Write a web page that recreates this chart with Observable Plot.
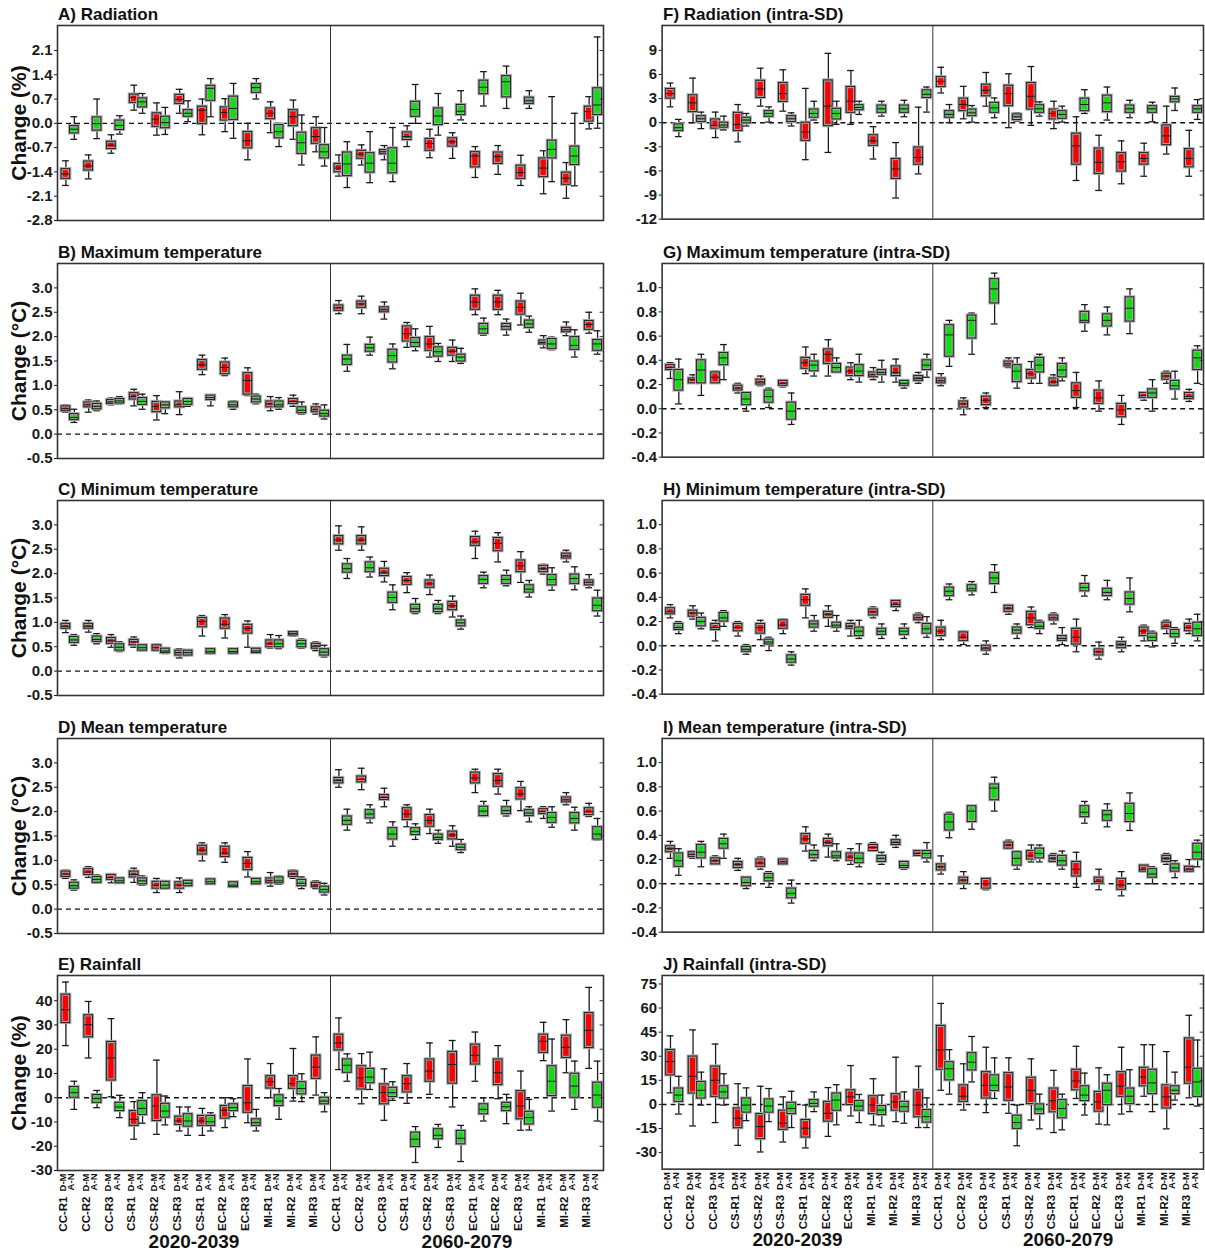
<!DOCTYPE html>
<html><head><meta charset="utf-8">
<script src="https://cdn.jsdelivr.net/npm/d3@7"></script>
<script src="https://cdn.jsdelivr.net/npm/@observablehq/plot@0.6"></script>
<style>
body{margin:0;background:#fff;}
#root{position:relative;width:1205px;height:1258px;overflow:hidden;background:#fff;font-family:"Liberation Sans",Arial,sans-serif;}
.ttl{position:absolute;font-weight:bold;font-size:17px;color:#111;white-space:nowrap;line-height:1;}
.pnl{position:absolute;}
</style></head><body><div id="root"></div>
<script>
// ---------- categories ----------
const periods = ["2020-2039", "2060-2079"];
const groupsP1 = ["CC-R1","CC-R2","CC-R3","CS-R1","CS-R2","CS-R3","CS-R1","EC-R2","EC-R3","MI-R1","MI-R2","MI-R3"];
const groupsP2 = ["CC-R1","CC-R2","CC-R3","CS-R1","CS-R2","CS-R3","EC-R1","EC-R2","EC-R3","MI-R1","MI-R2","MI-R3"];
const series = ["D-M", "A-N"];
const seriesColors = ["#ff0000", "#10dd10"];

// ---------- tick labels ----------
const ticksRad = [-2.8,-2.1,-1.4,-0.7,0,0.7,1.4,2.1];
const ticksTemp = [-0.5,0,0.5,1,1.5,2,2.5,3];
const ticksRain = [-30,-20,-10,0,10,20,30,40];
const ticksRadSd = [-12,-9,-6,-3,0,3,6,9];
const ticksTempSd = [-0.4,-0.2,0,0.2,0.4,0.6,0.8,1.0];
const ticksRainSd = [-30,-15,0,15,30,45,60,75];

// ---------- box values: [min, q1, median, q3, max] per group (12 groups x 2 periods) ----------
const radDM = [[-1.79,-1.60,-1.46,-1.32,-1.08],[-1.60,-1.36,-1.23,-1.10,-0.91],[-0.86,-0.74,-0.63,-0.53,-0.33],[0.38,0.59,0.75,0.83,1.10],[-0.34,-0.10,0.12,0.29,0.59],[0.29,0.56,0.69,0.82,0.98],[-0.33,-0.02,0.38,0.48,0.70],[-0.24,0.08,0.31,0.46,0.71],[-1.05,-0.72,-0.50,-0.25,0.0],[-0.27,0.12,0.29,0.43,0.62],[-0.46,-0.08,0.19,0.38,0.67],[-0.82,-0.59,-0.38,-0.14,0.19],
[-1.52,-1.41,-1.29,-1.17,-0.91],[-1.20,-1.02,-0.89,-0.79,-0.62],[-1.05,-0.89,-0.82,-0.77,-0.64],[-0.67,-0.48,-0.38,-0.26,-0.07],[-0.99,-0.79,-0.58,-0.45,-0.17],[-1.01,-0.67,-0.53,-0.43,-0.27],[-1.56,-1.27,-0.94,-0.83,-0.67],[-1.47,-1.17,-0.96,-0.84,-0.64],[-1.79,-1.60,-1.42,-1.22,-0.92],[-2.03,-1.55,-1.29,-1.01,-0.79],[-2.16,-1.77,-1.58,-1.42,-1.13],[-0.16,0.05,0.34,0.48,0.77]];
const radAN = [[-0.46,-0.29,-0.17,-0.08,0.19],[-0.44,-0.21,-0.01,0.17,0.70],[-0.31,-0.19,-0.06,0.08,0.22],[0.29,0.46,0.62,0.72,0.86],[-0.32,-0.14,0.02,0.19,0.46],[0.05,0.19,0.29,0.38,0.65],[0.19,0.65,1.01,1.08,1.29],[-0.43,0.10,0.43,0.77,1.15],[0.70,0.88,1.03,1.13,1.29],[-0.67,-0.43,-0.24,-0.05,0.0],[-1.20,-0.88,-0.56,-0.27,0.24],[-1.23,-1.01,-0.82,-0.63,-0.12],
[-1.85,-1.52,-1.17,-0.84,-0.53],[-1.71,-1.42,-1.15,-0.86,-0.24],[-1.68,-1.44,-1.15,-0.72,-0.12],[0.0,0.19,0.40,0.62,1.12],[-0.34,-0.05,0.21,0.43,0.86],[0.10,0.24,0.35,0.53,0.94],[0.50,0.84,1.04,1.23,1.49],[0.43,0.75,1.20,1.36,1.65],[0.43,0.56,0.65,0.74,0.94],[-1.68,-1.01,-0.75,-0.50,0.77],[-1.80,-1.20,-0.94,-0.67,0.29],[-0.14,0.24,0.53,1.01,2.49]];

const tmaxDM = [[0.45,0.47,0.52,0.57,0.60],[0.45,0.55,0.60,0.65,0.70],[0.60,0.62,0.66,0.70,0.74],[0.58,0.71,0.77,0.84,0.92],[0.29,0.45,0.57,0.66,0.79],[0.40,0.55,0.60,0.67,0.87],[1.22,1.32,1.42,1.52,1.62],[1.20,1.23,1.37,1.47,1.56],[0.79,0.81,1.10,1.25,1.36],[0.48,0.55,0.62,0.67,0.77],[0.57,0.62,0.67,0.72,0.80],[0.41,0.45,0.50,0.55,0.62],
[2.47,2.53,2.59,2.64,2.74],[2.47,2.59,2.67,2.72,2.83],[2.36,2.50,2.55,2.60,2.71],[1.78,1.90,2.06,2.21,2.29],[1.58,1.71,1.85,1.99,2.21],[1.49,1.61,1.70,1.77,1.93],[2.45,2.55,2.71,2.84,2.98],[2.45,2.55,2.71,2.84,2.95],[2.24,2.45,2.60,2.72,2.89],[1.77,1.84,1.88,1.92,2.02],[2.02,2.09,2.14,2.18,2.30],[2.07,2.14,2.25,2.32,2.50]];
const tmaxAN = [[0.24,0.29,0.34,0.41,0.51],[0.48,0.51,0.57,0.62,0.68],[0.62,0.63,0.68,0.72,0.77],[0.51,0.60,0.67,0.74,0.82],[0.42,0.53,0.60,0.65,0.65],[0.57,0.60,0.67,0.72,0.75],[0.58,0.70,0.75,0.79,0.81],[0.51,0.55,0.60,0.65,0.68],[0.62,0.65,0.72,0.77,0.82],[0.51,0.55,0.60,0.67,0.75],[0.41,0.43,0.49,0.55,0.66],[0.31,0.36,0.42,0.48,0.60],
[1.29,1.42,1.54,1.61,1.84],[1.62,1.69,1.77,1.83,1.99],[1.34,1.47,1.61,1.73,1.85],[1.71,1.79,1.88,1.97,2.16],[1.49,1.59,1.69,1.78,1.86],[1.45,1.49,1.58,1.63,1.76],[2.03,2.06,2.16,2.26,2.38],[2.03,2.14,2.21,2.26,2.36],[2.09,2.18,2.26,2.33,2.42],[1.73,1.75,1.85,1.95,1.99],[1.58,1.73,1.82,1.99,2.14],[1.64,1.71,1.85,1.93,2.12]];

const tminDM = [[0.79,0.87,0.92,0.97,1.04],[0.80,0.87,0.92,0.97,1.04],[0.49,0.56,0.62,0.68,0.75],[0.49,0.53,0.60,0.64,0.70],[0.42,0.42,0.48,0.53,0.55],[0.27,0.32,0.38,0.42,0.46],[0.72,0.90,1.02,1.09,1.14],[0.68,0.87,0.96,1.08,1.16],[0.49,0.77,0.88,0.95,1.03],[0.47,0.49,0.56,0.63,0.75],[0.72,0.73,0.77,0.80,0.82],[0.42,0.46,0.51,0.56,0.60],
[2.48,2.60,2.69,2.77,2.98],[2.48,2.60,2.69,2.77,2.96],[1.83,1.95,2.02,2.10,2.25],[1.61,1.77,1.86,1.93,2.02],[1.57,1.71,1.79,1.86,1.97],[1.11,1.25,1.34,1.42,1.54],[2.31,2.57,2.65,2.75,2.87],[2.24,2.46,2.62,2.73,2.84],[1.82,2.03,2.16,2.27,2.45],[1.99,2.03,2.10,2.16,2.19],[2.24,2.31,2.36,2.41,2.48],[1.71,1.76,1.82,1.86,1.98]];
const tminAN = [[0.53,0.58,0.64,0.70,0.75],[0.56,0.60,0.65,0.71,0.77],[0.40,0.42,0.49,0.55,0.60],[0.42,0.42,0.48,0.53,0.53],[0.36,0.37,0.41,0.46,0.48],[0.32,0.32,0.38,0.42,0.42],[0.36,0.36,0.40,0.45,0.45],[0.36,0.36,0.40,0.45,0.45],[0.37,0.37,0.41,0.46,0.46],[0.46,0.49,0.56,0.63,0.73],[0.47,0.49,0.56,0.62,0.66],[0.29,0.32,0.39,0.45,0.53],
[1.90,2.02,2.10,2.19,2.31],[1.93,2.03,2.12,2.23,2.34],[1.26,1.40,1.51,1.61,1.77],[1.18,1.21,1.28,1.36,1.49],[1.18,1.21,1.28,1.36,1.45],[0.86,0.92,0.99,1.04,1.13],[1.71,1.79,1.88,1.95,2.03],[1.75,1.79,1.88,1.95,2.07],[1.52,1.61,1.68,1.76,1.86],[1.66,1.76,1.88,1.97,2.12],[1.67,1.79,1.90,1.98,2.14],[1.13,1.23,1.35,1.49,1.66]];

const tmeanDM = [[0.63,0.66,0.72,0.77,0.80],[0.65,0.70,0.76,0.82,0.87],[0.54,0.60,0.65,0.70,0.73],[0.55,0.65,0.71,0.77,0.84],[0.34,0.42,0.49,0.56,0.63],[0.34,0.42,0.49,0.55,0.64],[0.99,1.12,1.21,1.30,1.36],[0.96,1.07,1.15,1.28,1.36],[0.66,0.80,0.94,1.05,1.18],[0.47,0.53,0.58,0.63,0.75],[0.63,0.66,0.72,0.77,0.80],[0.42,0.45,0.49,0.54,0.58],
[2.50,2.58,2.64,2.69,2.86],[2.45,2.60,2.66,2.72,2.89],[2.10,2.24,2.29,2.34,2.48],[1.69,1.83,1.95,2.07,2.14],[1.55,1.69,1.82,1.93,2.05],[1.29,1.43,1.52,1.59,1.71],[2.39,2.58,2.69,2.80,2.87],[2.36,2.51,2.64,2.77,2.87],[2.02,2.25,2.36,2.48,2.62],[1.86,1.95,2.00,2.05,2.10],[2.14,2.19,2.24,2.29,2.39],[1.90,1.93,2.00,2.07,2.17]];
const tmeanAN = [[0.39,0.42,0.48,0.54,0.60],[0.53,0.54,0.61,0.66,0.70],[0.53,0.53,0.58,0.63,0.63],[0.49,0.51,0.58,0.63,0.68],[0.42,0.42,0.49,0.56,0.56],[0.47,0.47,0.53,0.58,0.58],[0.51,0.51,0.56,0.61,0.61],[0.45,0.45,0.49,0.55,0.55],[0.51,0.51,0.56,0.62,0.62],[0.51,0.53,0.58,0.65,0.68],[0.42,0.47,0.53,0.60,0.66],[0.29,0.34,0.40,0.46,0.53],
[1.62,1.73,1.82,1.90,2.05],[1.77,1.86,1.95,2.03,2.14],[1.29,1.43,1.54,1.66,1.79],[1.43,1.52,1.59,1.66,1.75],[1.35,1.42,1.47,1.53,1.62],[1.16,1.21,1.27,1.32,1.43],[1.90,1.91,2.01,2.10,2.21],[1.91,1.95,2.02,2.09,2.23],[1.79,1.91,1.97,2.03,2.10],[1.68,1.77,1.88,1.97,2.10],[1.62,1.76,1.86,1.97,2.09],[1.42,1.43,1.54,1.68,1.86]];

const rainDM = [[21.5,30.8,36.3,42.5,47.7],[16.4,24.9,30.1,34.0,39.7],[0.4,7.1,16.4,23.0,32.6],[-17.1,-11.6,-8.9,-5.5,-1.6],[-15.1,-9.6,-3.4,1.0,15.5],[-13.7,-11.2,-9.6,-7.8,-3.8],[-15.5,-11.6,-9.6,-7.5,-4.4],[-12.3,-8.6,-5.2,-3.4,0],[-10.3,-6.2,-2.1,4.8,16.0],[0,3.8,6.6,8.9,14.1],[-1.4,3.7,5.8,8.9,20.3],[1.1,7.8,12.6,17.4,25.1],
[11.6,19.5,22.6,26.0,32.9],[-2.5,3.4,8.2,13.0,18.2],[-9.3,-2.7,2.1,5.5,11.9],[-2.3,2.2,5.8,8.9,14.1],[1.4,6.6,11.0,15.8,22.6],[-3.8,5.8,13.7,18.9,23.6],[6.8,13.7,17.5,21.9,27.1],[-0.4,5.2,10.3,15.8,21.5],[-13.4,-8.9,-3.4,2.7,11.0],[15.3,18.5,23.3,26.0,31.1],[10.3,16.4,20.8,25.6,32.2],[12.1,20.5,27.8,34.9,45.5]];
const rainAN = [[-4.8,0,2.1,4.4,6.8],[-4.1,-2.1,-0.3,1.1,3.0],[-8.2,-5.5,-3.8,-2.1,1.0],[-10.5,-7.1,-4.4,-1.4,2.1],[-11.2,-8.2,-5.5,-2.5,0.7],[-15.5,-11.9,-9.6,-6.8,-3.8],[-13.7,-11.6,-9.9,-7.5,-6.2],[-7.8,-5.5,-4.1,-2.7,-0.4],[-13.7,-11.6,-10.3,-8.9,-4.8],[-8.9,-3.4,-1.4,1.0,3.8],[-1.6,1.4,3.8,6.4,9.9],[-5.8,-2.7,-1.4,0,2.1],
[6.8,10.3,13.4,15.8,18.1],[3.4,6.0,8.5,11.9,18.8],[-1.1,0.3,2.1,4.1,6.6],[-26.7,-20.3,-17.1,-14.4,-11.9],[-20.5,-17.1,-15.5,-13.0,-11.0],[-26.3,-19.2,-16.7,-13.7,-11.4],[-9.6,-6.8,-4.8,-2.7,0],[-10.7,-5.5,-3.7,-2.1,1.4],[-13.3,-11.0,-8.2,-5.8,-0.7],[-5.5,0.7,6.8,13.0,24.2],[-4.8,0,4.8,9.9,15.1],[-9.6,-4.1,1.1,6.2,15.1]];

const radSdDM = [[1.97,3.0,3.62,4.19,4.93],[0,1.32,2.47,3.41,5.55],[-1.85,-0.74,-0.33,0.41,1.32],[-2.38,-1.03,-0.21,1.23,2.26],[2.06,3.08,4.19,5.22,6.78],[1.44,2.59,3.62,4.93,6.58],[-4.60,-2.26,-1.15,0,4.27],[-3.70,-0.42,2.06,5.26,8.63],[-0.21,1.23,2.67,4.44,6.49],[-4.52,-2.88,-2.26,-1.56,-0.49],[-9.37,-6.99,-5.75,-4.52,-2.47],[-6.37,-5.22,-4.32,-3.08,1.93],
[3.70,4.44,5.14,5.67,6.90],[0.49,1.44,2.26,3.0,4.52],[2.06,3.29,4.03,4.73,6.25],[-0.62,2.06,3.62,4.60,6.08],[-0.33,1.64,3.29,4.93,6.99],[-0.74,0.41,1.15,1.64,2.67],[-7.19,-5.22,-2.88,-1.36,0.74],[-8.43,-6.37,-4.93,-3.21,-1.56],[-7.60,-6.08,-4.85,-3.78,-2.26],[-6.66,-5.22,-4.44,-3.78,-2.55],[-3.90,-2.79,-1.64,-0.33,2.06],[-6.66,-5.55,-4.44,-3.29,-0.95]];
const radSdAN = [[-1.73,-1.03,-0.62,-0.21,0.41],[-0.74,0.08,0.49,0.82,1.32],[-0.90,-0.62,-0.29,0,0.82],[-0.41,-0.08,0.33,0.62,1.15],[0.08,0.74,1.15,1.44,1.97],[-0.41,0.08,0.49,0.82,1.23],[0.33,0.62,1.15,1.64,2.67],[-0.21,0.41,1.15,1.73,2.67],[1.03,1.56,1.89,2.18,2.67],[0.82,1.23,1.73,2.14,2.67],[0.74,1.23,1.73,2.14,2.79],[1.32,3.08,3.53,4.03,4.44],
[0,0.62,1.03,1.44,2.26],[0.08,0.82,1.23,1.64,2.14],[0.62,1.23,1.85,2.47,3.08],[0.21,0.33,0.74,1.03,1.23],[0.82,1.23,1.73,2.18,2.59],[0.08,0.49,1.03,1.44,2.06],[1.15,1.44,2.26,3.0,4.11],[0.33,1.32,2.47,3.37,4.44],[0.62,1.23,1.73,2.14,2.79],[0.12,1.23,1.73,2.06,2.55],[1.52,2.55,2.96,3.21,4.32],[0.41,1.23,1.73,2.06,2.88]];

const tmaxSdDM = [[0.25,0.32,0.34,0.36,0.38],[0.21,0.21,0.24,0.25,0.28],[0.21,0.21,0.26,0.30,0.31],[0.13,0.15,0.17,0.19,0.21],[0.19,0.20,0.22,0.24,0.27],[0.18,0.19,0.21,0.23,0.24],[0.29,0.33,0.38,0.42,0.51],[0.27,0.37,0.45,0.49,0.57],[0.24,0.27,0.31,0.34,0.38],[0.24,0.26,0.28,0.30,0.34],[0.22,0.27,0.30,0.35,0.41],[0.21,0.23,0.25,0.27,0.30],
[0.19,0.21,0.23,0.25,0.29],[-0.05,0.01,0.04,0.06,0.09],[0.01,0.03,0.07,0.10,0.13],[0.34,0.35,0.37,0.39,0.42],[0.21,0.25,0.29,0.32,0.39],[0.19,0.19,0.22,0.25,0.28],[0.01,0.09,0.15,0.21,0.30],[-0.02,0.04,0.09,0.15,0.23],[-0.13,-0.07,-0.01,0.04,0.11],[0.07,0.09,0.11,0.13,0.14],[0.21,0.24,0.27,0.29,0.31],[0.06,0.08,0.10,0.13,0.16]];
const tmaxSdAN = [[0.04,0.15,0.24,0.32,0.41],[0.11,0.21,0.32,0.40,0.45],[0.24,0.36,0.42,0.46,0.53],[-0.02,0.03,0.08,0.13,0.13],[0.01,0.05,0.10,0.15,0.17],[-0.13,-0.09,-0.02,0.05,0.13],[0.27,0.31,0.36,0.39,0.45],[0.30,0.30,0.34,0.37,0.42],[0.22,0.27,0.31,0.36,0.45],[0.22,0.28,0.30,0.32,0.40],[0.17,0.19,0.21,0.23,0.24],[0.26,0.32,0.36,0.40,0.45],
[0.35,0.43,0.61,0.69,0.73],[0.45,0.58,0.73,0.77,0.79],[0.70,0.87,0.99,1.07,1.12],[0.17,0.22,0.31,0.36,0.42],[0.21,0.30,0.36,0.42,0.45],[0.23,0.26,0.32,0.37,0.42],[0.64,0.71,0.73,0.80,0.86],[0.61,0.68,0.73,0.78,0.84],[0.62,0.72,0.83,0.92,0.99],[-0.02,0.09,0.13,0.16,0.24],[0.08,0.16,0.19,0.23,0.31],[0.21,0.32,0.42,0.48,0.52]];

const tminSdDM = [[0.23,0.26,0.28,0.31,0.34],[0.22,0.24,0.27,0.29,0.33],[0.04,0.13,0.15,0.18,0.21],[0.08,0.12,0.15,0.18,0.20],[0.05,0.10,0.15,0.18,0.21],[0.10,0.14,0.17,0.21,0.22],[0.23,0.33,0.38,0.42,0.47],[0.16,0.23,0.26,0.28,0.33],[0.08,0.14,0.16,0.18,0.21],[0.23,0.25,0.28,0.30,0.32],[0.29,0.32,0.34,0.37,0.38],[0.19,0.21,0.23,0.25,0.27],
[0.05,0.08,0.12,0.15,0.21],[0.01,0.04,0.07,0.11,0.12],[-0.07,-0.04,-0.02,0.0,0.04],[0.26,0.28,0.31,0.33,0.34],[0.15,0.17,0.23,0.28,0.32],[0.18,0.21,0.23,0.25,0.27],[-0.05,0.01,0.07,0.14,0.22],[-0.11,-0.08,-0.05,-0.03,0.03],[-0.05,-0.02,0.01,0.03,0.07],[0.04,0.08,0.12,0.15,0.17],[0.10,0.14,0.16,0.19,0.21],[0.10,0.12,0.15,0.18,0.22]];
const tminSdAN = [[0.10,0.13,0.15,0.18,0.20],[0.14,0.16,0.20,0.23,0.27],[0.16,0.20,0.23,0.27,0.29],[-0.07,-0.05,-0.03,-0.01,0.01],[-0.04,0.01,0.03,0.05,0.07],[-0.16,-0.14,-0.11,-0.08,-0.05],[0.12,0.15,0.18,0.20,0.25],[0.12,0.15,0.17,0.19,0.25],[0.06,0.08,0.12,0.15,0.21],[0.06,0.09,0.12,0.14,0.18],[0.06,0.09,0.12,0.14,0.18],[0.07,0.10,0.14,0.18,0.24],
[0.38,0.41,0.45,0.48,0.51],[0.42,0.45,0.47,0.50,0.53],[0.44,0.51,0.56,0.60,0.67],[0.06,0.10,0.13,0.15,0.18],[0.10,0.14,0.16,0.19,0.21],[0.01,0.04,0.06,0.08,0.15],[0.41,0.45,0.48,0.51,0.58],[0.38,0.41,0.44,0.47,0.54],[0.28,0.34,0.39,0.44,0.56],[-0.01,0.04,0.07,0.10,0.12],[0.02,0.07,0.10,0.13,0.15],[0.04,0.08,0.14,0.19,0.26]];

const tmeanSdDM = [[0.21,0.26,0.29,0.31,0.35],[0.21,0.22,0.24,0.26,0.27],[0.16,0.16,0.19,0.21,0.23],[0.11,0.13,0.16,0.18,0.21],[0.12,0.14,0.17,0.20,0.22],[0.16,0.16,0.18,0.20,0.21],[0.27,0.33,0.37,0.41,0.47],[0.22,0.31,0.34,0.37,0.41],[0.16,0.19,0.22,0.25,0.29],[0.27,0.27,0.30,0.32,0.34],[0.30,0.32,0.34,0.36,0.40],[0.23,0.23,0.25,0.27,0.27],
[0.08,0.11,0.14,0.16,0.23],[-0.04,0.0,0.03,0.05,0.10],[-0.05,-0.04,0.0,0.04,0.05],[0.29,0.29,0.32,0.34,0.36],[0.18,0.20,0.23,0.27,0.32],[0.18,0.18,0.21,0.23,0.25],[-0.03,0.06,0.12,0.18,0.26],[-0.05,0.0,0.02,0.05,0.12],[-0.10,-0.05,-0.01,0.04,0.10],[0.10,0.10,0.12,0.15,0.15],[0.16,0.18,0.21,0.23,0.25],[0.10,0.10,0.12,0.14,0.20]];
const tmeanSdAN = [[0.07,0.14,0.19,0.25,0.29],[0.14,0.21,0.26,0.32,0.35],[0.21,0.29,0.33,0.37,0.41],[-0.04,-0.02,0.01,0.05,0.05],[-0.03,0.02,0.05,0.08,0.10],[-0.16,-0.12,-0.08,-0.04,0.03],[0.19,0.21,0.24,0.27,0.32],[0.19,0.21,0.23,0.26,0.33],[0.14,0.17,0.21,0.25,0.33],[0.16,0.18,0.21,0.23,0.26],[0.12,0.13,0.15,0.18,0.19],[0.18,0.21,0.25,0.27,0.34],
[0.38,0.44,0.51,0.57,0.59],[0.45,0.51,0.60,0.64,0.64],[0.60,0.69,0.79,0.82,0.88],[0.12,0.15,0.21,0.26,0.27],[0.18,0.21,0.25,0.29,0.32],[0.12,0.15,0.19,0.23,0.27],[0.50,0.55,0.59,0.64,0.68],[0.47,0.52,0.57,0.60,0.66],[0.44,0.51,0.58,0.66,0.75],[0.0,0.05,0.08,0.12,0.14],[0.05,0.10,0.13,0.16,0.19],[0.14,0.20,0.26,0.33,0.36]];

const rainSdDM = [[7.2,18.1,26.7,33.9,42.7],[-13.4,6.8,17.5,29.8,46.4],[-11.3,4.7,15.0,23.6,37.6],[-25.5,-14.8,-8.6,-2.5,12.9],[-29.6,-21.6,-13.8,-6.0,11.3],[-23.4,-15.8,-11.7,-3.9,4.7],[-27.1,-20.6,-14.8,-9.7,-0.4],[-19.9,-10.7,-5.5,1.6,10.5],[-7.2,-0.4,4.7,8.8,24.2],[-12.7,-6.0,-0.4,5.1,16.0],[-10.7,-3.9,1.6,6.4,29.4],[-14.4,-8.0,-0.4,8.8,23.8],
[8.8,21.6,33.9,48.9,62.9],[-3.5,1.6,5.1,11.9,25.3],[-5.1,3.7,11.9,20.1,35.6],[-5.5,2.3,10.9,19.5,29.0],[-9.7,0.2,8.8,16.6,28.4],[-17.5,-4.9,2.3,9.9,21.2],[3.7,8.8,14.6,21.6,36.2],[-12.3,-4.5,1.6,7.8,22.8],[-6.0,4.7,11.3,20.1,35.6],[5.1,11.3,17.1,22.8,37.2],[-15.2,-2.5,4.7,11.9,32.9],[4.1,12.9,23.2,41.1,55.5]];
const rainSdAN = [[-6.0,1.6,5.8,9.9,17.5],[-0.4,3.7,8.8,14.0,20.1],[-0.4,3.7,7.8,11.3,19.1],[-10.1,-5.1,-0.4,3.7,10.3],[-10.7,-5.1,-1.0,3.1,9.9],[-14.4,-6.0,-2.5,1.0,8.2],[-4.5,-1.4,0.6,2.7,7.8],[-12.7,-3.9,2.7,6.8,12.3],[-11.3,-3.9,-1.0,2.1,6.2],[-13.4,-6.6,-3.5,-1.0,5.8],[-11.7,-4.5,-1.4,1.6,7.8],[-14.4,-11.3,-7.6,-3.5,4.1],
[6.4,15.0,22.2,26.3,34.1],[14.0,21.2,26.3,31.9,42.3],[3.7,8.4,11.9,18.1,29.0],[-25.7,-15.2,-11.3,-7.0,-0.4],[-15.2,-6.0,-2.9,0,6.4],[-15.8,-8.6,-2.5,2.7,6.4],[-6.6,2.1,5.8,11.3,19.5],[-12.7,-0.4,8.8,12.9,18.5],[-4.5,0.2,5.1,9.9,21.6],[-4.5,6.4,13.4,21.6,37.2],[2.7,6.4,8.8,11.3,20.1],[-1.0,4.7,14.0,22.2,40.1]];

// ---------- panel definitions ----------
const f1 = v => v.toFixed(1);
const f0 = v => String(v);
const panels = [
  {title:"A) Radiation", dm:radDM, an:radAN, domain:[-2.8,2.82], ticks:ticksRad, fmt:f1, ylabel:"Change (%)", col:0, row:0},
  {title:"B) Maximum temperature", dm:tmaxDM, an:tmaxAN, domain:[-0.5,3.5], ticks:ticksTemp, fmt:f1, ylabel:"Change (\u00B0C)", col:0, row:1},
  {title:"C) Minimum temperature", dm:tminDM, an:tminAN, domain:[-0.5,3.5], ticks:ticksTemp, fmt:f1, ylabel:"Change (\u00B0C)", col:0, row:2},
  {title:"D) Mean temperature", dm:tmeanDM, an:tmeanAN, domain:[-0.5,3.5], ticks:ticksTemp, fmt:f1, ylabel:"Change (\u00B0C)", col:0, row:3},
  {title:"E) Rainfall", dm:rainDM, an:rainAN, domain:[-30,50.4], ticks:ticksRain, fmt:f0, ylabel:"Change (%)", col:0, row:4},
  {title:"F) Radiation (intra-SD)", dm:radSdDM, an:radSdAN, domain:[-12,12.1], ticks:ticksRadSd, fmt:f0, ylabel:null, col:1, row:0},
  {title:"G) Maximum temperature (intra-SD)", dm:tmaxSdDM, an:tmaxSdAN, domain:[-0.4,1.2], ticks:ticksTempSd, fmt:f1, ylabel:null, col:1, row:1},
  {title:"H) Minimum temperature (intra-SD)", dm:tminSdDM, an:tminSdAN, domain:[-0.4,1.2], ticks:ticksTempSd, fmt:f1, ylabel:null, col:1, row:2},
  {title:"I) Mean temperature (intra-SD)", dm:tmeanSdDM, an:tmeanSdAN, domain:[-0.4,1.2], ticks:ticksTempSd, fmt:f1, ylabel:null, col:1, row:3},
  {title:"J) Rainfall (intra-SD)", dm:rainSdDM, an:rainSdAN, domain:[-40.3,80.3], ticks:ticksRainSd, fmt:f0, ylabel:null, col:1, row:4}
];

const frameTops = [25, 263, 500, 738, 975];
const frameH = 195;
const colLeft = [0, 605];
const FONT = "Liberation Sans, Arial, sans-serif";
const root = document.getElementById("root");

function boxRows(arr, off, s) {
  return arr.map((v, g) => ({g, s, pos: g + off, mn: v[0], q1: v[1], md: v[2], q3: v[3], mx: v[4]}));
}

function boxMarks(rows, color) {
  const hw = 0.19, cw = 0.15;
  const X1 = d => d.pos - hw, X2 = d => d.pos + hw;
  return [
    Plot.ruleX(rows, {x: "pos", y1: "mn", y2: "mx", stroke: "#1a1a1a", strokeWidth: 1.3}),
    Plot.ruleY(rows, {y: "mx", x1: d => d.pos - cw, x2: d => d.pos + cw, stroke: "#1a1a1a", strokeWidth: 1.3}),
    Plot.ruleY(rows, {y: "mn", x1: d => d.pos - cw, x2: d => d.pos + cw, stroke: "#1a1a1a", strokeWidth: 1.3}),
    Plot.rect(rows, {x1: X1, x2: X2, y1: "q1", y2: "q3", fill: color}),
    Plot.rect(rows, {x1: X1, x2: X2, y1: "q1", y2: "q3", fill: "none", stroke: "#ababab", strokeWidth: 3.2}),
    Plot.rect(rows, {x1: X1, x2: X2, y1: "q1", y2: "q3", fill: "none", stroke: "#262626", strokeWidth: 1.1}),
    Plot.ruleY(rows, {y: "md", x1: X1, x2: X2, stroke: "#1a1a1a", strokeWidth: 1})
  ];
}

panels.forEach(p => {
  const isBottom = p.row === 4;
  const mt = 6, mb = isBottom ? 90 : 6;
  const width = p.col === 0 ? 605 : 604;
  const dmRows = boxRows(p.dm, 0.37, series[0]);
  const anRows = boxRows(p.an, 0.74, series[1]);
  const marks = [
    Plot.ruleY([0], {stroke: "#111", strokeWidth: 1.4, strokeDasharray: "5,4"}),
    Plot.ruleX([periods.length * 6], {stroke: "#333", strokeWidth: 1}),
    ...boxMarks(dmRows, seriesColors[0]),
    ...boxMarks(anRows, seriesColors[1]),
    Plot.frame({stroke: "#333", strokeWidth: 1.6}),
    Plot.axisY(p.ticks, {tickSize: 3, tickPadding: 2, tickFormat: p.fmt, fontSize: 15, fontWeight: "bold", label: null, color: "#1a1a1a"}),
    Plot.ruleY(p.ticks, {x1: 23.85, x2: 24, stroke: "#333", strokeWidth: 1})
  ];
  if (p.ylabel) {
    marks.push(Plot.text([p.ylabel], {frameAnchor: "left", dx: -38, rotate: -90, textAnchor: "middle", fontSize: 21, fontWeight: "bold", fill: "#111"}));
  }
  if (isBottom) {
    const groupRows = groupsP1.map((name, g) => ({g, name})).concat(groupsP2.map((name, g) => ({g: g + 12, name})));
    marks.push(
      Plot.text(dmRows, {x: "pos", text: "s", frameAnchor: "bottom", dy: 3, rotate: -90, textAnchor: "end", fontSize: 9.5, fontWeight: "bold", fill: "#111"}),
      Plot.text(anRows, {x: "pos", text: "s", frameAnchor: "bottom", dy: 3, rotate: -90, textAnchor: "end", fontSize: 9.5, fontWeight: "bold", fill: "#111"}),
      Plot.text(groupRows, {x: d => d.g + 0.42, text: "name", frameAnchor: "bottom", dy: 26, rotate: -90, textAnchor: "end", fontSize: 11.5, fontWeight: "bold", fill: "#111"}),
      Plot.text(periods, {x: (d, i) => i * 12 + 6, text: d => d, frameAnchor: "bottom", dy: 77, fontSize: 19, fontWeight: "bold", fill: "#111"})
    );
  }
  const chart = Plot.plot({
    width, height: mt + frameH + mb,
    marginLeft: 57, marginRight: 2, marginTop: mt, marginBottom: mb,
    x: {domain: [0, 24], axis: null},
    y: {domain: p.domain, axis: null},
    style: {fontFamily: FONT, background: "transparent", overflow: "visible"},
    marks
  });
  const div = document.createElement("div");
  div.className = "pnl";
  div.style.left = colLeft[p.col] + "px";
  div.style.top = (frameTops[p.row] - mt) + "px";
  div.appendChild(chart);
  root.appendChild(div);

  const t = document.createElement("div");
  t.className = "ttl";
  t.textContent = p.title;
  t.style.left = (colLeft[p.col] + 58) + "px";
  t.style.top = (frameTops[p.row] - 19) + "px";
  root.appendChild(t);
});
</script>
</body></html>
